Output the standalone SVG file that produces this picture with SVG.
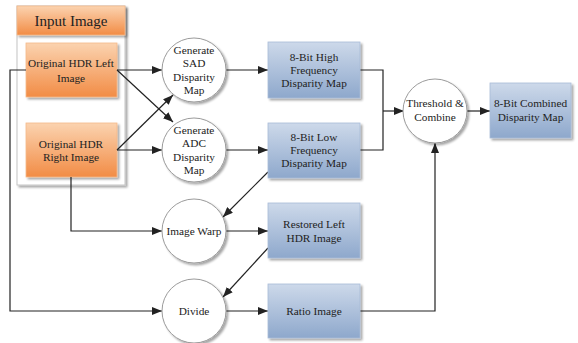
<svg xmlns="http://www.w3.org/2000/svg" width="578" height="343" viewBox="0 0 578 343">
  <defs>
    <linearGradient id="orange" x1="0" y1="0" x2="0" y2="1">
      <stop offset="0" stop-color="#fbd3b0"/>
      <stop offset="1" stop-color="#f28c45"/>
    </linearGradient>
    <linearGradient id="blue" x1="0" y1="0" x2="0" y2="1">
      <stop offset="0" stop-color="#cdd9ea"/>
      <stop offset="1" stop-color="#8ea8cc"/>
    </linearGradient>
    <filter id="shadow" x="-10%" y="-10%" width="125%" height="130%">
      <feDropShadow dx="2" dy="2" stdDeviation="1" flood-color="#000" flood-opacity="0.35"/>
    </filter>
    <marker id="arrow" viewBox="0 0 10 8" refX="10" refY="4" markerWidth="10" markerHeight="8" markerUnits="userSpaceOnUse" orient="auto">
      <path d="M0,0 L10,4 L0,8 Z" fill="#222"/>
    </marker>
    <style>
      text { font-family: "Liberation Serif", "Times New Roman", serif; font-size: 11.3px; fill: #222; text-anchor: middle; }
      .hdr { font-size: 15px; }
      .orange { fill: url(#orange); stroke: #f5b98a; stroke-width: 0.8; filter: url(#shadow); }
      .blue { fill: url(#blue); stroke: #a9bcd8; stroke-width: 0.8; filter: url(#shadow); }
      .circle { fill: #fff; stroke: #9a9a9a; stroke-width: 1; filter: url(#shadow); }
      .frame { fill: #fff; stroke: #c4c4c4; stroke-width: 1; filter: url(#shadow); }
      .conn path { fill: none; stroke: #222; stroke-width: 1.2; }
      .conn .a { marker-end: url(#arrow); }
    </style>
  </defs>

  <!-- input image group -->
  <g id="input-image">
    <rect class="frame" x="17" y="6" width="108" height="179"/>
    <rect class="orange" x="17" y="6" width="108" height="29"/>
    <text class="hdr" x="71" y="26">Input Image</text>
  </g>

  <g id="hdr-left">
    <rect class="orange" x="26" y="43" width="91" height="54"/>
    <text x="71" y="67">Original HDR Left</text>
    <text x="71" y="82">Image</text>
  </g>

  <g id="hdr-right">
    <rect class="orange" x="26" y="123" width="91" height="54"/>
    <text x="71" y="148">Original HDR</text>
    <text x="71" y="161">Right Image</text>
  </g>

  <!-- connectors -->
  <g id="connectors" class="conn">
    <path class="a" d="M117,70 L162,70"/>
    <path class="a" d="M117,70 L173,122"/>
    <path class="a" d="M117,150 L162,150"/>
    <path class="a" d="M117,150 L173,95"/>
    <path class="a" d="M26,70 L10,70 L10,311 L162,311"/>
    <path class="a" d="M71,177 L71,231 L162,231"/>
    <path class="a" d="M226,70 L268,70"/>
    <path class="a" d="M226,150 L268,150"/>
    <path class="a" d="M268,172 L223,217"/>
    <path class="a" d="M226,231 L268,231"/>
    <path class="a" d="M268,248 L223,297"/>
    <path class="a" d="M226,311 L268,311"/>
    <path d="M360,70 L383,70 L383,150 L360,150"/>
    <path class="a" d="M383,111 L404,111"/>
    <path class="a" d="M360,311 L435,311 L435,143"/>
    <path class="a" d="M467,111 L490,111"/>
  </g>

  <g id="sad">
    <circle class="circle" cx="194" cy="70" r="32"/>
    <text x="194" y="54">Generate</text>
    <text x="194" y="67">SAD</text>
    <text x="194" y="81">Disparity</text>
    <text x="194" y="94">Map</text>
  </g>

  <g id="adc">
    <circle class="circle" cx="194" cy="150" r="32"/>
    <text x="194" y="134">Generate</text>
    <text x="194" y="147">ADC</text>
    <text x="194" y="161">Disparity</text>
    <text x="194" y="174">Map</text>
  </g>

  <g id="warp">
    <circle class="circle" cx="194" cy="231" r="32"/>
    <text x="194" y="235">Image Warp</text>
  </g>

  <g id="divide">
    <circle class="circle" cx="194" cy="311" r="32"/>
    <text x="194" y="315">Divide</text>
  </g>

  <g id="high">
    <rect class="blue" x="268" y="42" width="92" height="56"/>
    <text x="314" y="61">8-Bit High</text>
    <text x="314" y="74">Frequency</text>
    <text x="314" y="87">Disparity Map</text>
  </g>

  <g id="low">
    <rect class="blue" x="268" y="123" width="92" height="55"/>
    <text x="314" y="141">8-Bit Low</text>
    <text x="314" y="154">Frequency</text>
    <text x="314" y="167">Disparity Map</text>
  </g>

  <g id="restored">
    <rect class="blue" x="268" y="203" width="92" height="55"/>
    <text x="314" y="228">Restored Left</text>
    <text x="314" y="242">HDR Image</text>
  </g>

  <g id="ratio">
    <rect class="blue" x="268" y="284" width="92" height="54"/>
    <text x="314" y="315">Ratio Image</text>
  </g>

  <g id="combine">
    <circle class="circle" cx="435" cy="111" r="32"/>
    <text x="435" y="107">Threshold &amp;</text>
    <text x="435" y="121">Combine</text>
  </g>

  <g id="combined">
    <rect class="blue" x="490" y="83" width="81" height="55"/>
    <text x="530.5" y="107">8-Bit Combined</text>
    <text x="530.5" y="121">Disparity Map</text>
  </g>
</svg>
